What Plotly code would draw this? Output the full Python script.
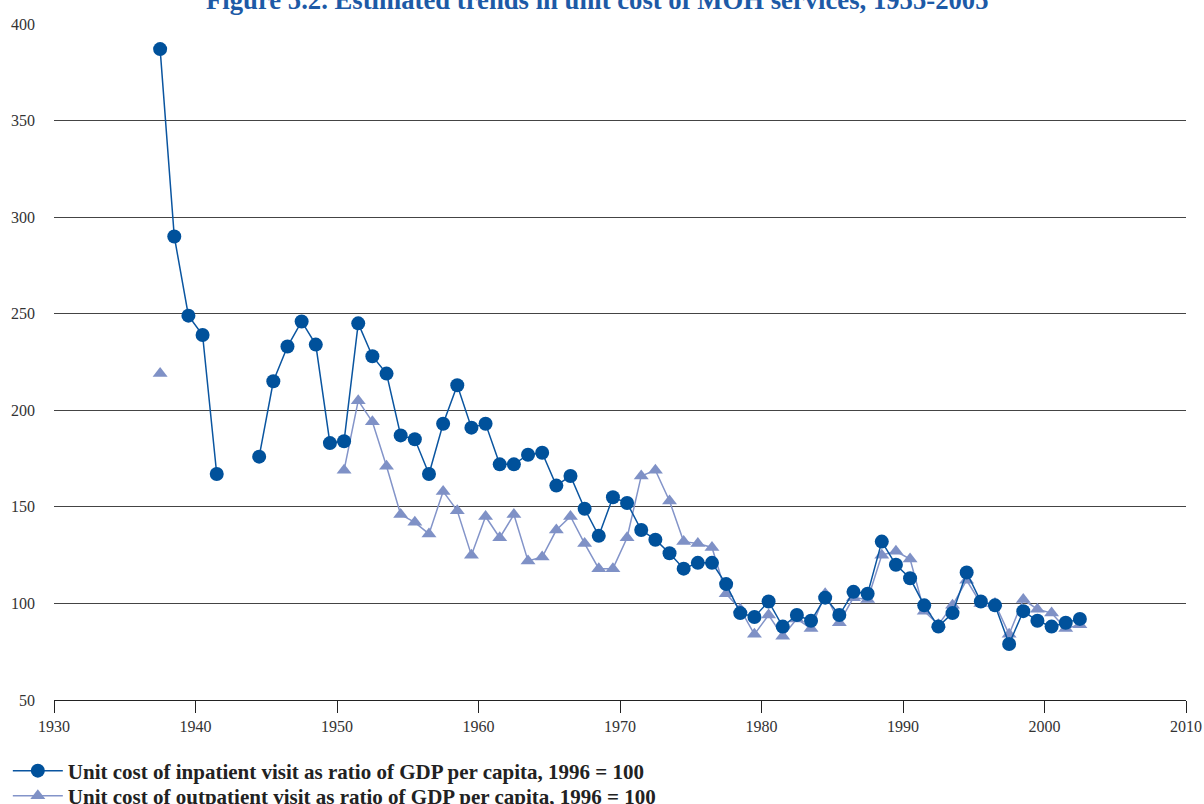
import plotly.graph_objects as go

years = list(range(1937, 2003))

inpatient = [387, 290, 249, 239, 167, None, None, 176, 215, 233,
             246, 234, 183, 184, 245, 228, 219, 187, 185, 167,
             193, 213, 191, 193, 172, 172, 177, 178, 161, 166,
             149, 135, 155, 152, 138, 133, 126, 118, 121, 121,
             110, 95, 93, 101, 88, 94, 91, 103, 94, 106,
             105, 132, 120, 113, 99, 88, 95, 116, 101, 99,
             79, 96, 91, 88, 90, 92]

outpatient = [219, None, None, None, None, None, None, None, None, None,
              None, None, None, 169, 205, 194, 171, 146, 142, 136,
              158, 148, 125, 145, 134, 146, 122, 124, 138, 145,
              131, 118, 118, 134, 166, 169, 153, 132, 131, 129,
              105, 97, 84, 94, 83, 92, 87, 105, 90, 103,
              102, 125, 127, 123, 96, 89, 99, 112, 100, 100,
              84, 102, 97, 95, 87, 89]

x_ticks = list(range(1930, 2011, 10))
y_ticks = list(range(50, 401, 50))

title_text = "Figure 5.2. Estimated trends in unit cost of MOH services, 1955-2005"
in_name = "Unit cost of inpatient visit as ratio of GDP per capita, 1996 = 100"
out_name = "Unit cost of outpatient visit as ratio of GDP per capita, 1996 = 100"

# points are centred within each year (date-axis style)
xs = [y + 0.5 for y in years]

SERIF = "Liberation Serif"
LEG_FONT = dict(family=SERIF, size=21, color="#222222", weight="bold")

fig = go.Figure()
fig.add_trace(go.Scatter(
    x=xs, y=outpatient, name=out_name, mode="lines+markers",
    line=dict(color="#8394c9", width=1.5),
    marker=dict(symbol="triangle-up", size=13, color="#7f91c6"),
    connectgaps=False, legend="legend2",
))
fig.add_trace(go.Scatter(
    x=xs, y=inpatient, name=in_name, mode="lines+markers",
    line=dict(color="#0a55a0", width=1.5),
    marker=dict(symbol="circle", size=14, color="#00519b"),
    connectgaps=False, legend="legend",
))

fig.update_layout(
    width=1204, height=804,
    margin=dict(l=54, r=18, t=24, b=104, autoexpand=False),
    paper_bgcolor="white", plot_bgcolor="white",
    font=dict(family=SERIF, color="#333333"),
    showlegend=True,
    legend=dict(
        xref="container", yref="container",
        x=0.0065, y=1 - 771 / 804, xanchor="left", yanchor="middle",
        font=LEG_FONT, itemwidth=50, bgcolor="rgba(0,0,0,0)",
    ),
    legend2=dict(
        xref="container", yref="container",
        x=0.0065, y=1 - 796 / 804, xanchor="left", yanchor="middle",
        font=LEG_FONT, itemwidth=50, bgcolor="rgba(0,0,0,0)",
    ),
    annotations=[dict(
        text="<b>" + title_text + "</b>", xref="paper", yref="paper",
        x=0.4797, y=1, xanchor="center", yanchor="bottom", yshift=7,
        showarrow=False, font=dict(family=SERIF, size=26.7, color="#1d5aa6"),
    )],
)
fig.update_xaxes(
    range=[1930, 2010], tickvals=x_ticks, ticktext=[str(v) for v in x_ticks],
    showgrid=False, showline=True, linecolor="#222222", linewidth=1,
    ticks="outside", ticklen=12, tickcolor="#222222", tickwidth=1,
    tickfont=dict(family=SERIF, size=16, color="#333333"), zeroline=False,
    automargin=False,
)
fig.update_yaxes(
    range=[50, 400], tickvals=y_ticks, ticktext=[str(v) for v in y_ticks],
    showgrid=True, gridcolor="#444444", gridwidth=1, showline=False,
    ticks="", tickfont=dict(family=SERIF, size=16, color="#333333"),
    zeroline=False, ticklabelstandoff=18, automargin=False,
)

fig.write_html(
    "out.html",
    config={"displayModeBar": False},
    post_script="document.body.style.margin='0';document.body.style.padding='0';",
)
